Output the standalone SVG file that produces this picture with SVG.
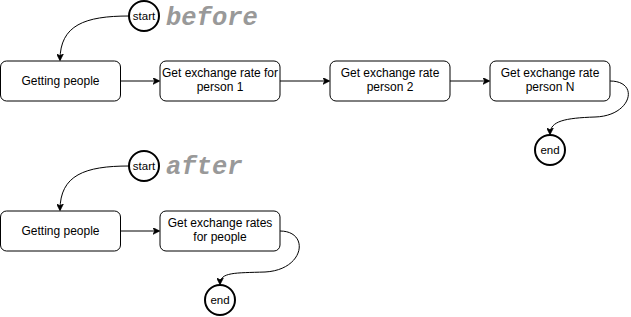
<svg xmlns="http://www.w3.org/2000/svg" width="631" height="317" viewBox="0 0 631 317">
<style>
.box{fill:#fff;stroke:#000;stroke-width:1}
.circ{fill:#fff;stroke:#000;stroke-width:2}
.t{font-family:"Liberation Sans",Arial,sans-serif;font-size:12px;fill:#000;text-anchor:middle}
.c{font-family:"Liberation Sans",Arial,sans-serif;font-size:11.5px;fill:#000;text-anchor:middle}
.lbl{font-family:"Liberation Mono","Courier New",monospace;font-size:25.5px;font-weight:bold;font-style:italic;fill:#999}
.e{fill:none;stroke:#000;stroke-width:1}
</style>
<defs>
<marker id="a" viewBox="0 0 10 10" refX="9" refY="5" markerWidth="7" markerHeight="7" markerUnits="userSpaceOnUse" orient="auto">
<path d="M0,0 L10,5 L0,10 L3,5 Z" fill="#000" stroke="#000" stroke-width="1"/>
</marker>
</defs>
<rect width="631" height="317" fill="#fff"/>
<g id="connectors">
<path class="e" d="M129,16 C85,16 60,25 60,60" marker-end="url(#a)"/>
<path class="e" d="M120,81 L159,81" marker-end="url(#a)"/>
<path class="e" d="M280,81 L329,81" marker-end="url(#a)"/>
<path class="e" d="M450,81 L489,81" marker-end="url(#a)"/>
<path class="e" d="M610,81 C640,81 632,116 595,117 C565,118 550,121 550,134" marker-end="url(#a)"/>
<path class="e" d="M129,166 C85,166 60,175 60,210" marker-end="url(#a)"/>
<path class="e" d="M120,231 L159,231" marker-end="url(#a)"/>
<path class="e" d="M280,231 C310,231 305,270 265,272 C235,273 220,272 220,284" marker-end="url(#a)"/>
</g>
<text class="lbl" x="166" y="25">before</text>
<text class="lbl" x="166" y="174">after</text>
<g id="start1"><circle class="circ" cx="144" cy="16" r="15"/><text class="c" x="144" y="20">start</text></g>
<g id="getting1"><rect class="box" x="0.5" y="61" width="120" height="40" rx="6"/><text class="t" x="60.5" y="85">Getting people</text></g>
<g id="rate1"><rect class="box" x="160" y="61" width="120" height="40" rx="6"/><text class="t" x="220" y="77">Get exchange rate for</text><text class="t" x="220" y="91">person 1</text></g>
<g id="rate2"><rect class="box" x="330" y="61" width="120" height="40" rx="6"/><text class="t" x="390" y="77">Get exchange rate</text><text class="t" x="390" y="91">person 2</text></g>
<g id="rateN"><rect class="box" x="490" y="61" width="120" height="40" rx="6"/><text class="t" x="550" y="77">Get exchange rate</text><text class="t" x="550" y="91">person N</text></g>
<g id="end1"><circle class="circ" cx="550" cy="150" r="15"/><text class="c" x="550" y="154">end</text></g>
<g id="start2"><circle class="circ" cx="144" cy="166" r="15"/><text class="c" x="144" y="170">start</text></g>
<g id="getting2"><rect class="box" x="0.5" y="211" width="120" height="40" rx="6"/><text class="t" x="60.5" y="235">Getting people</text></g>
<g id="rates"><rect class="box" x="160" y="211" width="120" height="40" rx="6"/><text class="t" x="220" y="227">Get exchange rates</text><text class="t" x="220" y="241">for people</text></g>
<g id="end2"><circle class="circ" cx="220" cy="300" r="15"/><text class="c" x="220" y="304">end</text></g>
</svg>
